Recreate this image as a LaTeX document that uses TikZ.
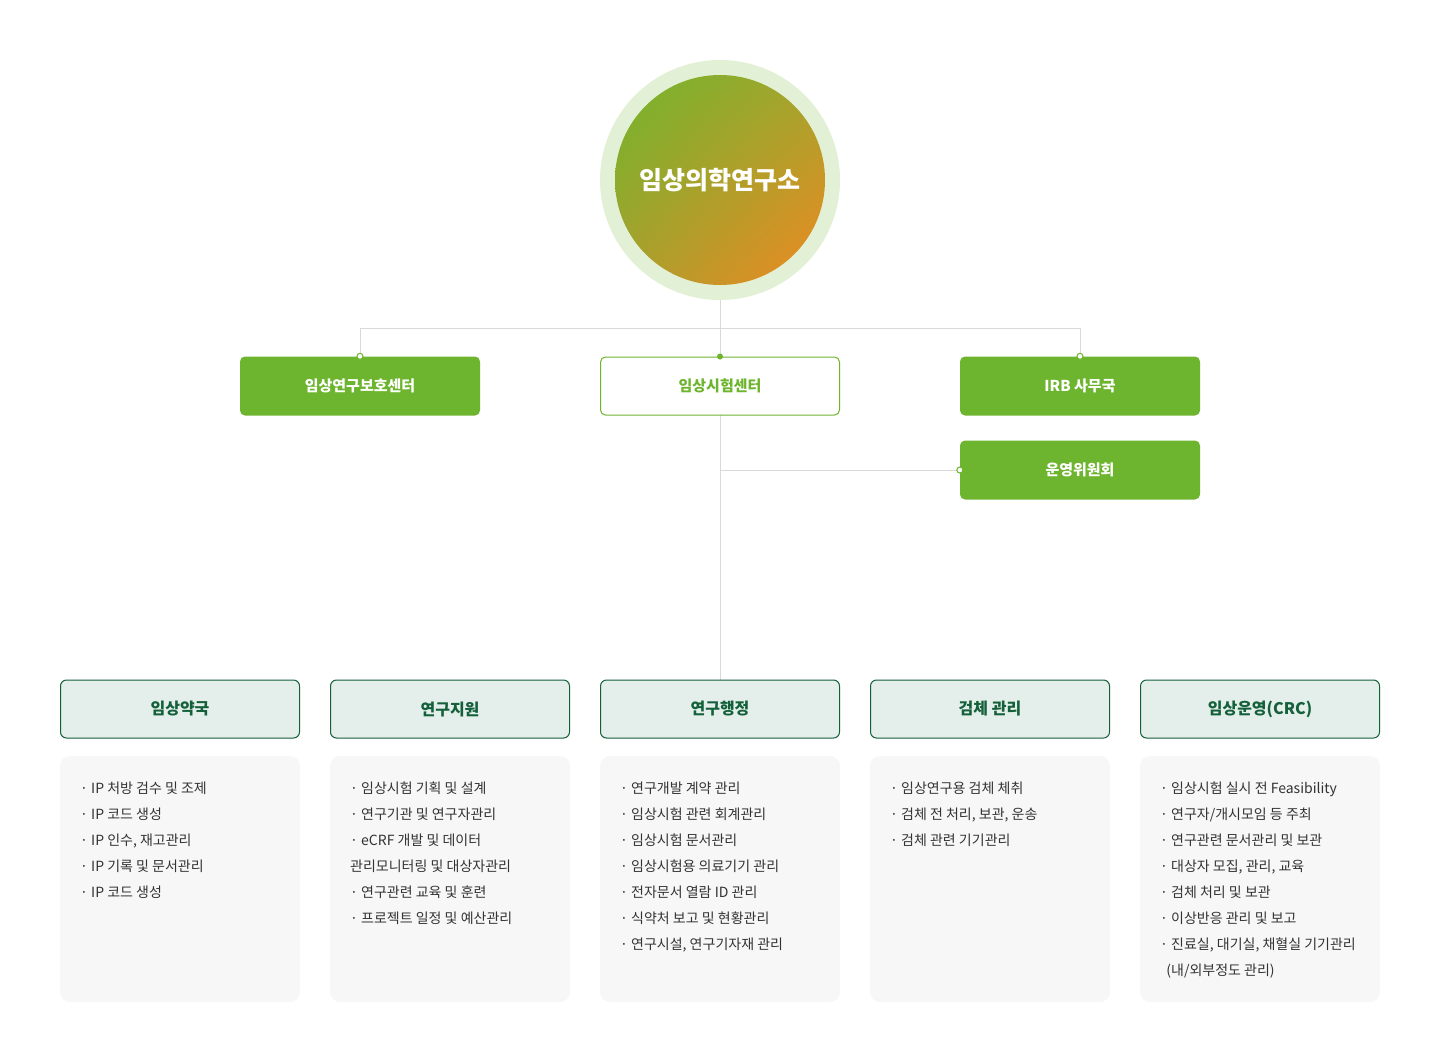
\documentclass[tikz,border=0pt]{standalone}
\usepackage{fontspec}
\usetikzlibrary{shadings}
\setmainfont{Noto Sans CJK KR}
\definecolor{lgreen}{HTML}{6EB52F}
\definecolor{dgreen}{HTML}{13603A}
\definecolor{hfill}{HTML}{E4EEEA}
\definecolor{lnc}{HTML}{D9D9D9}
\definecolor{txt}{HTML}{333333}
\definecolor{sa}{HTML}{72B52C}
\definecolor{sb}{HTML}{A6A42E}
\definecolor{sc}{HTML}{A8A02E}
\definecolor{sd}{HTML}{F08820}
\begin{document}
\begin{tikzpicture}[x=1pt,y=-1pt,
 line/.style={draw=lnc,line width=1pt},
 gbox/.style={rectangle,rounded corners=5pt,fill=lgreen,minimum width=240pt,minimum height=59pt,text=white,font=\fontsize{15}{18}\selectfont\bfseries},
 wbox/.style={rectangle,rounded corners=5pt,draw=lgreen,line width=1pt,fill=white,minimum width=239pt,minimum height=58pt,text=lgreen,font=\fontsize{15}{18}\selectfont\bfseries},
 hbox/.style={rectangle,rounded corners=6pt,draw=dgreen,line width=1pt,fill=hfill,minimum width=239pt,minimum height=58pt,text=dgreen,font=\fontsize{16}{19}\selectfont\bfseries},
 cbox/.style={rectangle,rounded corners=10pt,fill=black!3,minimum width=240pt,minimum height=246pt},
 list/.style={anchor=north west,align=left,text=txt,font=\fontsize{14}{26}\selectfont,inner sep=0pt},
 odot/.style={circle,draw=lgreen,fill=white,line width=1pt,inner sep=0pt,minimum size=6pt},
 fdot/.style={circle,fill=lgreen,inner sep=0pt,minimum size=6pt}]
\useasboundingbox (0,0) rectangle (1440,1063);
\fill[color=lgreen!20] (720,180) circle (120);
\shade[upper left=sa,upper right=sb,lower left=sc,lower right=sd] (720,180) circle (105);
\node[text=white,font=\fontsize{25}{30}\selectfont\bfseries] (top) at (720,180) {임상의학연구소};
\coordinate (tb) at (720,300);
\coordinate (hl) at (360,328); \coordinate (hr) at (1080,328);
\coordinate (br) at (720,470);
\draw[line] (tb) -- (720,680);
\draw[line] (360,356) -- (hl) -- (hr) -- (1080,356);
\draw[line] (br) -- (960,470);
\node[gbox] (a) at (360,386) {임상연구보호센터};
\node[wbox] (b) at (720,386) {임상시험센터};
\node[gbox] (c) at (1080,386) {IRB 사무국};
\node[gbox] (d) at (1080,470) {운영위원회};
\node[odot] at (a.north) {}; \node[fdot] at (b.north) {}; \node[odot] at (c.north) {}; \node[odot] at (d.west) {};
\foreach \x/\t in {180/임상약국,450/연구지원,720/연구행정,990/검체 관리,1260/임상운영(CRC)}{
 \node[hbox] (h\x) at (\x,709) {\t};
 \node[cbox] (c\x) at (\x,879) {};
}
\node[list] at (80,782) {· IP 처방 검수 및 조제\\· IP 코드 생성\\· IP 인수, 재고관리\\· IP 기록 및 문서관리\\· IP 코드 생성};
\node[list] at (350,782) {· 임상시험 기획 및 설계\\· 연구기관 및 연구자관리\\· eCRF 개발 및 데이터\\관리모니터링 및 대상자관리\\· 연구관련 교육 및 훈련\\· 프로젝트 일정 및 예산관리};
\node[list] at (620,782) {· 연구개발 계약 관리\\· 임상시험 관련 회계관리\\· 임상시험 문서관리\\· 임상시험용 의료기기 관리\\· 전자문서 열람 ID 관리\\· 식약처 보고 및 현황관리\\· 연구시설, 연구기자재 관리};
\node[list] at (890,782) {· 임상연구용 검체 체취\\· 검체 전 처리, 보관, 운송\\· 검체 관련 기기관리};
\node[list] at (1160,782) {· 임상시험 실시 전 Feasibility\\· 연구자/개시모임 등 주최\\· 연구관련 문서관리 및 보관\\· 대상자 모집, 관리, 교육\\· 검체 처리 및 보관\\· 이상반응 관리 및 보고\\· 진료실, 대기실, 채혈실 기기관리\\\ \ (내/외부정도 관리)};
\end{tikzpicture}
\end{document}
